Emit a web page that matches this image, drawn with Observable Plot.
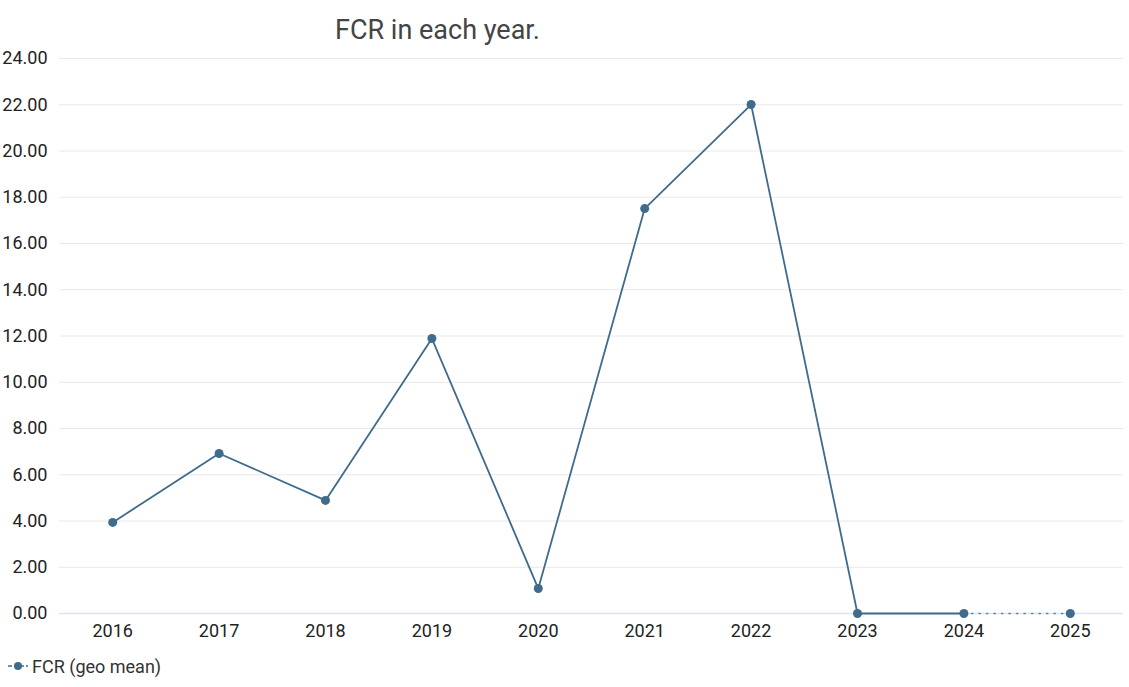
<!DOCTYPE html>
<html>
<head>
<meta charset="utf-8">
<script src="https://cdn.jsdelivr.net/npm/d3@7"></script>
<script src="https://cdn.jsdelivr.net/npm/@observablehq/plot@0.6"></script>
<style>
  body { margin: 0; background: #fff; font-family: Roboto, "Noto Sans", sans-serif; }
  #title { height: 46px; box-sizing: border-box; padding-left: 335px; padding-top: 14px; font-size: 27px; color: #444; line-height: 32px; }
  #legend { height: 30px; display: flex; align-items: center; padding-left: 8px; font-size: 18px; color: #333; margin-top: 2px; }
  #legend svg { margin-right: 4px; }
</style>
</head>
<body>
<div id="title">FCR in each year.</div>
<div id="chart"></div>
<div id="legend"><svg width="20" height="12"><line x1="0" y1="6" x2="20" y2="6" stroke="#3f6b8c" stroke-width="1.5" stroke-dasharray="4,2"/><circle cx="10" cy="6" r="4" fill="#3f6b8c"/></svg><span>FCR (geo mean)</span></div>
<script>
const years = ["2016","2017","2018","2019","2020","2021","2022","2023","2024","2025"];
const fcr = [3.94, 6.92, 4.89, 11.89, 1.08, 17.51, 22.01, 0, 0, 0];
const yTicks = [0,2,4,6,8,10,12,14,16,18,20,22,24];
const seriesName = "FCR (geo mean)";

const data = years.map((y, i) => ({year: y, value: fcr[i]}));
const solid = data.slice(0, 9);
const dotted = data.slice(8, 10);
const color = "#3f6b8c";

const chart = Plot.plot({
  width: 1129,
  height: 603,
  marginTop: 12,
  marginBottom: 36,
  marginLeft: 59,
  marginRight: 6,
  style: {fontFamily: "Roboto, 'Noto Sans', sans-serif", fontSize: "18px", color: "#222", background: "#fff"},
  x: {type: "point", domain: years, padding: 0.5, round: false, label: null},
  y: {domain: [0, 24], label: null},
  marks: [
    Plot.ruleY(yTicks.filter(d => d > 0), {stroke: "#e8e8e8", strokeWidth: 1}),
    Plot.ruleY([0], {stroke: "#dde3f1", strokeWidth: 1.5}),
    Plot.axisY({ticks: yTicks, tickSize: 0, tickPadding: 12, tickFormat: d => d.toFixed(2), label: null, fill: "#222"}),
    Plot.axisX({tickSize: 0, tickPadding: 11, label: null, fill: "#222"}),
    Plot.line(solid, {x: "year", y: "value", stroke: color, strokeWidth: 1.8}),
    Plot.line(dotted, {x: "year", y: "value", stroke: color, strokeWidth: 1.3, strokeDasharray: "1.5,6", strokeOpacity: 0.8}),
    Plot.dot(data, {x: "year", y: "value", r: 4.5, fill: color, title: d => `${seriesName}: ${d.value}`})
  ]
});
document.getElementById("chart").appendChild(chart);
</script>
</body>
</html>
